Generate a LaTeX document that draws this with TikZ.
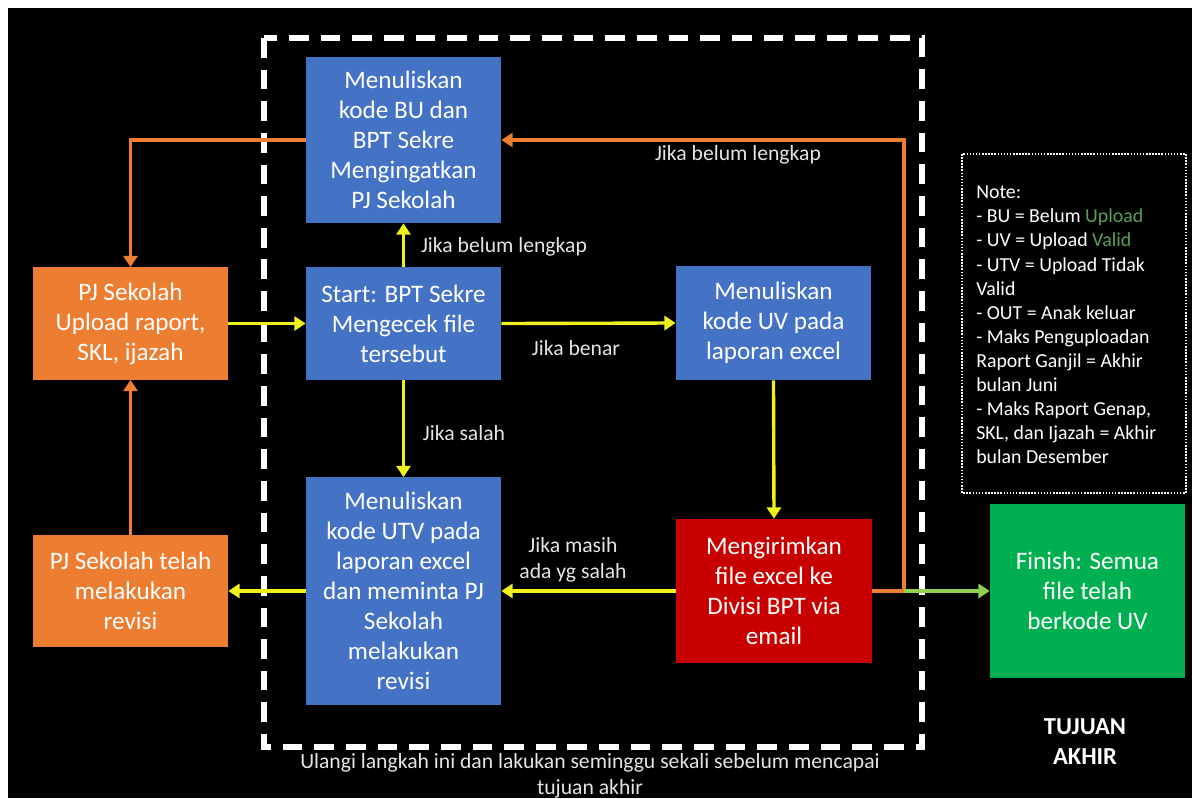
\documentclass[tikz,border=0pt]{standalone}
\usepackage{fontspec}
\setmainfont{Carlito}
\usetikzlibrary{arrows.meta}
\definecolor{boxblue}{RGB}{68,114,196}
\definecolor{boxorange}{RGB}{237,125,49}
\definecolor{boxred}{RGB}{200,0,0}
\definecolor{boxgreen}{RGB}{0,176,80}
\definecolor{lineyellow}{RGB}{240,240,30}
\definecolor{lineorange}{RGB}{237,125,49}
\definecolor{linegreen}{RGB}{146,208,80}
\definecolor{notegreen}{RGB}{90,160,90}
\definecolor{labelgray}{RGB}{228,228,228}
\begin{document}
\begin{tikzpicture}[x=0.025cm,y=-0.025cm,
  box/.style={draw=none, inner sep=0pt, align=center, text=white,
    minimum width=4.875cm, font=\fontsize{17.9}{21.3}\selectfont},
  bluebox/.style={box, fill=boxblue},
  orangebox/.style={box, fill=boxorange},
  redbox/.style={box, fill=boxred},
  greenbox/.style={box, fill=boxgreen},
  conn/.style={line width=2.4pt, -{Triangle[length=8pt,width=10pt]}},
  yconn/.style={conn, draw=lineyellow},
  oconn/.style={conn, draw=lineorange},
  gconn/.style={conn, draw=linegreen},
  lbl/.style={text=labelgray, inner sep=0pt, align=center, font=\fontsize{15.4}{18.2}\selectfont},
  loopframe/.style={draw=white, line width=3.6pt, dash pattern=on 14pt off 8.5pt},
  notebox/.style={draw=white, line width=1pt, dash pattern=on 1.1pt off 1.1pt}
]
% canvas
\useasboundingbox (0,0) rectangle (1192,798);
\fill[white] (0,0) rectangle (1192,798);
\fill[black] (8,8) rectangle (1192,798);

% repeat-loop frame
\draw[loopframe] (264,38) rectangle (922,747);

% boxes
\node[bluebox, minimum height=4.15cm] (A) at (403.5,140)
  {Menuliskan\\kode BU dan\\BPT Sekre\\Mengingatkan\\PJ Sekolah};
\node[bluebox, minimum height=2.825cm] (B) at (403.5,323.5)
  {Start: BPT Sekre\\Mengecek file\\tersebut};
\node[bluebox, minimum height=2.85cm] (C) at (773.5,323)
  {Menuliskan\\kode UV pada\\laporan excel};
\node[bluebox, minimum height=5.675cm] (D) at (403.5,591)
  {Menuliskan\\kode UTV pada\\laporan excel\\dan meminta PJ\\Sekolah\\melakukan\\revisi};
\node[redbox, minimum height=3.6cm] (E) at (774,591)
  {Mengirimkan\\file excel ke\\Divisi BPT via\\email};
\node[orangebox, minimum height=2.8cm] (F) at (130.5,323.5)
  {PJ Sekolah\\Upload raport,\\SKL, ijazah};
\node[orangebox, minimum height=2.8cm] (G) at (130.5,591)
  {PJ Sekolah telah\\melakukan\\revisi};
\node[greenbox, minimum height=4.35cm] (H) at (1087.5,591)
  {Finish: Semua\\file telah\\berkode UV};

% note
\draw[notebox] (962,154) rectangle (1186,493);
\node[anchor=west, align=left, inner sep=0pt, text=white,
  font=\fontsize{14.1}{17.15}\selectfont] (N) at (976,325)
  {Note:\\- BU = Belum \textcolor{notegreen}{Upload}\\- UV = Upload \textcolor{notegreen}{Valid}\\- UTV = Upload Tidak\\Valid\\- OUT = Anak keluar\\- Maks Penguploadan\\Raport Ganjil = Akhir\\bulan Juni\\- Maks Raport Genap,\\SKL, dan Ijazah = Akhir\\bulan Desember};

% connectors
\coordinate (J) at (904,591);
\draw[yconn] (F.east) -- (B.west);
\draw[yconn] (B.north) -- (A.south);
\draw[yconn] (B.east) -- (C.west);
\draw[yconn] (B.south) -- (D.north);
\draw[yconn] (C.south) -- (E.north);
\draw[yconn] (E.west) -- (D.east);
\draw[yconn] (D.west) -- (G.east);
\draw[oconn] (G.north) -- (F.south);
\draw[oconn] (A.west) -| (F.north);
\draw[oconn] (E.east) -- (J) |- (A.east);
\draw[gconn] (J) -- (H.west);

% labels
\node[lbl] (l1) at (504,247) {Jika belum lengkap};
\node[lbl] (l2) at (576,348) {Jika benar};
\node[lbl] (l3) at (464,433) {Jika salah};
\node[lbl] (l4) at (573,560) {Jika masih\\ada yg salah};
\node[lbl] (l5) at (738,155) {Jika belum lengkap};
\node[lbl] (l6) at (590,776) {Ulangi langkah ini dan lakukan seminggu sekali sebelum mencapai\\tujuan akhir};
\node[text=white, align=center, inner sep=0pt,
  font=\fontsize{17.4}{21.3}\selectfont\bfseries] (T) at (1085,742) {TUJUAN\\AKHIR};
\end{tikzpicture}
\end{document}
